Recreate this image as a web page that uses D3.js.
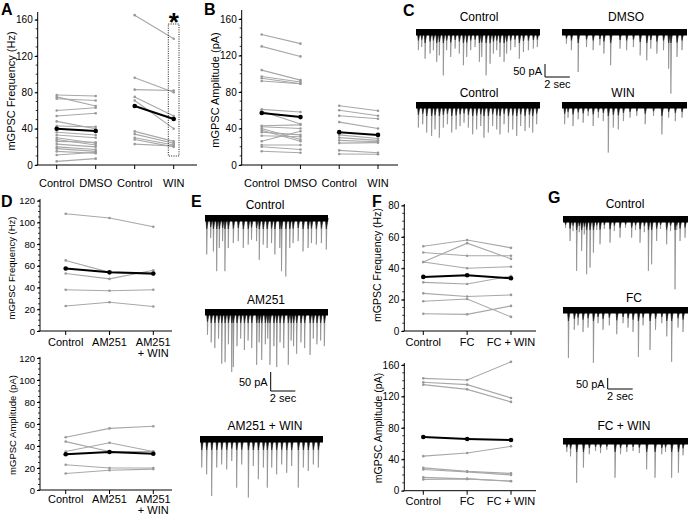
<!DOCTYPE html>
<html><head><meta charset="utf-8">
<script src="https://cdn.jsdelivr.net/npm/d3@7"></script>
<style>body{margin:0;background:#fff} text{font-family:"Liberation Sans",Arial,Helvetica,sans-serif;fill:#000}</style>
</head><body><svg id="fig" width="688" height="515"></svg>
<script>
// ---------- Panel A : mGPSC frequency (Hz) ----------
const aLabels = ["Control","DMSO","Control","WIN"];
const aCtrl1 = [77,75,73,60,54,48,43,36,33,30,26,23,20,18,15,11,4,28];
const aDMSO  = [76,65,71,63,57,40,42,33,30,24,25,20,17,15,13,14,7,22];
const aMean1 = [40,37.5];
const aCtrl2 = [165,96,83,75,71,37,34,30,28,23];
const aWIN   = [139,80,82,54,40,26,24,22,20,21];
const aMean2 = [65,50.6];
const aTicks = [0,40,80,120,160];

// ---------- Panel B : mGPSC amplitude (pA) ----------
const bLabels = ["Control","DMSO","Control","WIN"];
const bCtrl1 = [143,130,104,97,95,92,61,59,43,42,40,38,36,32,26,22,20,15];
const bDMSO  = [133,119,93,91,89,89,58,45,44,40,28,26,33,31,37,22,17,13.5];
const bMean1 = [57,52.5];
const bCtrl2 = [65,60,54,47,33,30,27,24,16,12];
const bWIN   = [59.5,54,50.7,40,29,27,25.5,24.5,13.5,11.7];
const bMean2 = [36,33];
const bTicks = [0,40,80,120,160];

// ---------- Panel D ----------
const dLabels = ["Control","AM251","AM251\n+ WIN"];
const dFreqCtrl = [108,65,53,38,23];
const dFreqAM   = [104,54,48,37,26.5];
const dFreqAMW  = [96,52,56,38,22.5];
const dFreqMean = [57.5,54,53];
const dAmpCtrl = [48,44,35,23,15];
const dAmpAM   = [56,35,43,20,18];
const dAmpAMW  = [58,35,35,20,19];
const dAmpMean = [32.5,34.5,33];
const dTicks = [0,20,40,60,80,100,120];

// ---------- Panel F ----------
const fLabels = ["Control","FC","FC + WIN"];
const fFreqCtrl = [54,50,44,44,31,24,19,11];
const fFreqFC   = [58,48,56,40,30,22,20.4,10.6];
const fFreqFCW  = [53,48,46,41,35,23,9,16];
const fFreqMean = [34.5,35.5,33.6];
const fFreqTicks = [0,20,40,60,80];
const fAmpCtrl = [143,138,135,44,29,27,17,14.4];
const fAmpFC   = [141,135,129,48,24.6,24,15,15];
const fAmpFCW  = [164,118,113,56.5,22,20,12.3,12];
const fAmpMean = [68.3,65.8,64.5];
const fAmpTicks = [0,40,80,120,160];

// ---------- Example traces: event times (s) and amplitudes (pA) ----------
const cCtrl1T = [0.19,0.46,0.73,1.13,1.40,1.67,1.88,2.20,2.47,2.80,3.15,3.49,3.82,4.09,4.41,4.76,5.11,5.30,5.65,5.97,6.24,6.51,6.77,7.10,7.31,7.63,7.98,8.33,8.66,9.06,9.46,9.78];
const cCtrl1A = [70,58,103,83,70,115,90,167,70,96,64,83,128,96,70,58,115,96,167,122,83,70,96,115,83,70,58,103,77,70,64,58];
const cDMSOT = [0.35,0.75,1.29,1.96,2.49,3.03,3.35,3.89,4.64,5.17,5.71,6.25,6.78,7.10,7.59,8.12,8.53,8.71,9.20,9.60];
const cDMSOA = [45,70,154,58,70,51,83,128,64,70,58,90,109,64,83,70,141,237,96,70];
const cCtrl2T = [0.19,0.54,0.86,1.26,1.53,1.88,2.20,2.53,2.88,3.23,3.55,3.87,4.22,4.57,4.89,5.22,5.48,5.83,6.18,6.51,6.77,7.10,7.45,7.80,8.12,8.44,8.79,9.14,9.41,9.73];
const cCtrl2A = [87,74,106,119,94,126,87,74,106,94,81,68,87,113,94,81,126,106,81,94,113,74,106,94,119,81,100,87,106,74];
const cWINT = [0.21,0.48,0.88,1.29,1.69,2.09,2.49,2.90,3.30,3.70,4.10,4.50,4.91,5.44,5.98,6.65,7.32,7.99,8.53,9.06,9.60];
const cWINA = [74,49,81,55,68,42,81,49,62,183,87,94,62,49,42,74,42,113,49,62,49];

const eCtrlT = [0.14,0.46,0.68,0.95,1.16,1.43,1.62,1.89,2.30,2.70,3.11,3.51,3.78,4.19,4.41,4.73,5.05,5.41,5.68,6.08,6.22,6.57,6.89,7.16,7.57,7.97,8.38,8.65,9.05,9.46,9.86];
const eCtrlA = [96,53,88,140,79,61,140,79,66,61,79,70,57,61,110,70,79,66,96,79,140,154,79,66,61,88,79,66,70,66,83];
const eAMT = [0.2,0.5,0.8,1.1,1.36,1.63,1.9,2.17,2.3,2.6,2.9,3.2,3.5,3.8,4.2,4.4,4.61,4.9,5.1,5.28,5.6,5.83,6.1,6.4,6.77,7.0,7.2,7.45,7.8,8.1,8.54,8.8,9.1,9.4,9.7];
const eAMA = [60,80,95,70,136,132,85,158,145,90,70,100,75,95,139,80,126,85,70,139,90,145,80,95,139,75,90,110,80,95,113,70,85,75,90];
const eAMWT = [0.14,0.54,0.95,1.36,1.76,2.17,2.58,2.98,3.39,3.93,4.33,4.74,5.15,5.47,5.83,6.23,6.64,7.05,7.45,7.99,8.40,8.80,9.21,9.62];
const eAMWA = [75,93,150,75,67,80,58,128,67,154,71,106,75,128,75,93,67,89,71,128,75,84,67,75];

const gCtrlT = [0.2,0.56,0.8,1.09,1.3,1.49,1.7,1.89,2.16,2.43,2.7,2.96,3.3,3.76,4.1,4.56,5.0,5.49,5.8,6.16,6.5,6.83,7.09,7.49,7.8,8.29,8.6,8.96,9.1,9.36,9.76];
const gCtrlA = [40,100,55,236,60,145,70,251,221,153,50,115,45,108,55,85,40,85,50,108,60,236,206,100,45,115,55,320,50,100,85];
const gFCT = [0.43,0.9,1.2,1.6,2.0,2.43,2.8,3.2,3.7,4.3,4.8,5.2,5.6,6.03,6.4,6.96,7.4,7.9,8.3,8.69,9.2,9.6];
const gFCA = [218,90,70,100,80,240,60,90,70,110,60,80,100,214,70,182,90,60,120,236,80,100];
const gFCWT = [0.3,0.6,1.09,1.63,2.1,2.6,3.0,3.5,4.16,4.6,5.1,5.6,6.1,6.69,7.36,7.9,8.2,8.69,9.23,9.6];
const gFCWA = [50,70,190,121,60,45,55,40,167,60,50,45,55,129,167,60,50,167,144,65];

// =====================================================================
const svg = d3.select('#fig');
const GRAY = '#a8a8a8';

function label(x, y, s, size, weight, anchor) {
  svg.append('text').attr('x', x).attr('y', y).text(s)
    .attr('font-size', size).attr('font-weight', weight || 'normal')
    .attr('text-anchor', anchor || 'start');
}

function linePanel(o) {
  const g = svg.append('g');
  const y = d3.scaleLinear().domain([0, o.max]).range([o.y0, o.yMax]);
  const x = d3.scalePoint().domain(d3.range(o.labels.length)).range([o.xa, o.xb]);
  const yAx = d3.axisLeft(y).tickValues(o.ticks).tickSize(3).tickPadding(2).tickSizeOuter(0);
  const ya = g.append('g').attr('transform', `translate(${o.ax},0)`).call(yAx);
  ya.select('.domain').remove();
  ya.selectAll('text').attr('font-size', o.tickFont).attr('font-family', '"Liberation Sans",Arial,sans-serif').attr('fill', '#000');
  ya.selectAll('line').attr('stroke', '#000');
  g.selectAll('line.minor').data(d3.range(0, o.max + 0.001, o.minor)).join('line')
    .attr('x1', o.ax - 2).attr('x2', o.ax).attr('y1', d => y(d)).attr('y2', d => y(d))
    .attr('stroke', '#000').attr('stroke-width', 0.8);
  g.append('line').attr('x1', o.ax).attr('x2', o.ax).attr('y1', o.y0).attr('y2', o.axTop).attr('stroke', '#000');
  g.append('line').attr('x1', o.ax).attr('x2', o.axEnd).attr('y1', o.y0).attr('y2', o.y0).attr('stroke', '#000');
  g.selectAll('line.xt').data(x.domain()).join('line')
    .attr('x1', d => x(d)).attr('x2', d => x(d)).attr('y1', o.y0).attr('y2', o.y0 + 4).attr('stroke', '#000');
  const lt = g.selectAll('text.cat').data(x.domain()).join('text')
    .attr('x', d => x(d)).attr('y', o.labelY).attr('text-anchor', 'middle').attr('font-size', 11);
  lt.each(function (d) {
    const parts = o.labels[d].split('\n');
    parts.forEach((p, i) => d3.select(this).append('tspan').attr('x', x(d)).attr('dy', i ? 11 : 0).text(p));
  });
  g.append('text').attr('transform', `translate(${o.titleX},${o.titleY}) rotate(-90)`)
    .attr('text-anchor', 'middle').attr('dominant-baseline', 'central').attr('font-size', o.titleFont).text(o.title);
  o.groups.forEach(gr => {
    const n = gr.series[0].length;
    const subjects = d3.range(n).map(i => gr.series.map((s, j) => [gr.cols[j], s[i]]));
    const line = d3.line().x(d => x(d[0])).y(d => y(d[1]));
    g.selectAll(null).data(subjects).join('path').attr('d', line)
      .attr('fill', 'none').attr('stroke', GRAY).attr('stroke-width', 1.1);
    g.selectAll(null).data(subjects.flat()).join('circle')
      .attr('cx', d => x(d[0])).attr('cy', d => y(d[1])).attr('r', 1.3).attr('fill', '#999');
    const m = gr.mean.map((v, j) => [gr.cols[j], v]);
    g.append('path').datum(m).attr('d', line).attr('fill', 'none').attr('stroke', '#000').attr('stroke-width', 2);
    g.selectAll(null).data(m).join('circle')
      .attr('cx', d => x(d[0])).attr('cy', d => y(d[1])).attr('r', 2.3).attr('fill', '#000');
  });
  return {x, y};
}

function trace(x0, x1, base, pxPerPA, t, a) {
  const g = svg.append('g');
  const x = d3.scaleLinear().domain([0, 10]).range([x0, x1]);
  const y = d3.scaleLinear().domain([0, 100]).range([base, base + 100 * pxPerPA]);
  const ev = d3.zip(t, a);
  // event bodies (grey, fast rise, slower decay)
  g.selectAll(null).data(ev).join('path')
    .attr('d', d => `M${x(d[0]) - 0.3},${base} L${x(d[0])},${y(d[1])} L${x(d[0]) + 0.8},${base}`)
    .attr('fill', '#9a9a9a').attr('stroke', '#808080').attr('stroke-width', 0.6);
  // dark onset portion of each event
  g.selectAll(null).data(ev).join('path')
    .attr('d', d => { const dep = Math.min(d[1] * pxPerPA * 0.3, 8); return `M${x(d[0]) - 1},${base} L${x(d[0])},${base + 3 + dep} L${x(d[0]) + 2},${base}`; })
    .attr('fill', '#111').attr('stroke', '#222').attr('stroke-width', 0.6);
  // baseline noise band
  g.append('rect').attr('x', x(0)).attr('y', base - 3).attr('width', x(10) - x(0)).attr('height', 6.5).attr('fill', '#000');
  return {x, y};
}

function scaleBar(xb, yb, pxPerPA, pxPerSec) {
  const h = 50 * pxPerPA, w = 2 * pxPerSec;
  svg.append('path').attr('d', `M${xb},${yb - h} L${xb},${yb} L${xb + w},${yb}`)
    .attr('fill', 'none').attr('stroke', '#000').attr('stroke-width', 1);
  label(xb - 3, yb - h / 2 + 4, '50 pA', 11, 'normal', 'end');
  label(xb + w / 2, yb + 11, '2 sec', 11, 'normal', 'middle');
}

// ----- Panel A -----
linePanel({max: 160, ticks: aTicks, minor: 10, y0: 165, yMax: 19.7, axTop: 12, ax: 37.7, axEnd: 197,
  xa: 56.7, xb: 173.7, labels: aLabels, labelY: 187, title: 'mGPSC Frequency (Hz)', titleX: 11, titleY: 91,
  tickFont: 10, titleFont: 11,
  groups: [{cols: [0, 1], series: [aCtrl1, aDMSO], mean: aMean1}, {cols: [2, 3], series: [aCtrl2, aWIN], mean: aMean2}]});
svg.append('rect').attr('x', 168.3).attr('y', 24).attr('width', 10.7).attr('height', 132)
  .attr('fill', 'none').attr('stroke', '#000').attr('stroke-width', 0.9).attr('stroke-dasharray', '1,1.3');
label(173.7, 31, '*', 26, 'bold', 'middle');
label(1, 15, 'A', 16, 'bold');

// ----- Panel B -----
linePanel({max: 160, ticks: bTicks, minor: 10, y0: 165, yMax: 19, axTop: 10, ax: 241.7, axEnd: 398,
  xa: 261.7, xb: 378, labels: bLabels, labelY: 187, title: 'mGPSC Amplitude (pA)', titleX: 215, titleY: 90,
  tickFont: 10, titleFont: 11,
  groups: [{cols: [0, 1], series: [bCtrl1, bDMSO], mean: bMean1}, {cols: [2, 3], series: [bCtrl2, bWIN], mean: bMean2}]});
label(204, 15, 'B', 16, 'bold');

// ----- Panel C -----
label(403, 16, 'C', 16, 'bold');
label(479, 21, 'Control', 12, 'normal', 'middle');
label(626, 21, 'DMSO', 12, 'normal', 'middle');
label(479, 97, 'Control', 12, 'normal', 'middle');
label(623, 97, 'WIN', 12, 'normal', 'middle');
trace(416, 540, 32, 0.26, cCtrl1T, cCtrl1A);
trace(562, 687, 32, 0.26, cDMSOT, cDMSOA);
trace(416, 540, 105, 0.26, cCtrl2T, cCtrl2A);
trace(562, 687, 105, 0.26, cWINT, cWINA);
scaleBar(545, 77, 0.26, 12.4);

// ----- Panel D -----
linePanel({max: 120, ticks: dTicks, minor: 5, y0: 331, yMax: 200.7, axTop: 199, ax: 40, axEnd: 172,
  xa: 65.7, xb: 153.3, labels: dLabels, labelY: 346, title: 'mGPSC Frequency (Hz)', titleX: 11, titleY: 268,
  tickFont: 9.5, titleFont: 9.5,
  groups: [{cols: [0, 1, 2], series: [dFreqCtrl, dFreqAM, dFreqAMW], mean: dFreqMean}]});
linePanel({max: 120, ticks: dTicks, minor: 5, y0: 490, yMax: 358, axTop: 357, ax: 40, axEnd: 172,
  xa: 65.7, xb: 153.3, labels: dLabels, labelY: 503, title: 'mGPSC Amplitude (pA)', titleX: 12, titleY: 425,
  tickFont: 9.5, titleFont: 9.5,
  groups: [{cols: [0, 1, 2], series: [dAmpCtrl, dAmpAM, dAmpAMW], mean: dAmpMean}]});
label(1, 207, 'D', 16, 'bold');

// ----- Panel E -----
label(191, 207, 'E', 16, 'bold');
label(265, 209, 'Control', 12, 'normal', 'middle');
label(266, 304, 'AM251', 12, 'normal', 'middle');
label(265, 430, 'AM251 + WIN', 12, 'normal', 'middle');
trace(205, 328, 218, 0.38, eCtrlT, eCtrlA);
trace(205, 328, 312, 0.38, eAMT, eAMA);
trace(200, 323, 439, 0.38, eAMWT, eAMWA);
scaleBar(270.7, 391, 0.38, 12.3);

// ----- Panel F -----
linePanel({max: 80, ticks: fFreqTicks, minor: 5, y0: 331, yMax: 205.5, axTop: 204, ax: 404.3, axEnd: 536,
  xa: 423.3, xb: 511, labels: fLabels, labelY: 346, title: 'mGPSC Frequency (Hz)', titleX: 377, titleY: 265,
  tickFont: 10, titleFont: 10.5,
  groups: [{cols: [0, 1, 2], series: [fFreqCtrl, fFreqFC, fFreqFCW], mean: fFreqMean}]});
linePanel({max: 160, ticks: fAmpTicks, minor: 10, y0: 490.7, yMax: 365, axTop: 363, ax: 404.3, axEnd: 536,
  xa: 423.3, xb: 511, labels: fLabels, labelY: 505, title: 'mGPSC Amplitude (pA)', titleX: 378, titleY: 428,
  tickFont: 10, titleFont: 10.5,
  groups: [{cols: [0, 1, 2], series: [fAmpCtrl, fAmpFC, fAmpFCW], mean: fAmpMean}]});
label(372, 207, 'F', 16, 'bold');

// ----- Panel G -----
label(548, 203, 'G', 16, 'bold');
label(625, 208, 'Control', 12, 'normal', 'middle');
label(634, 302, 'FC', 12, 'normal', 'middle');
label(624, 430, 'FC + WIN', 12, 'normal', 'middle');
trace(563, 688, 219, 0.22, gCtrlT, gCtrlA);
trace(563, 688, 310, 0.22, gFCT, gFCA);
trace(563, 688, 441, 0.22, gFCWT, gFCWA);
scaleBar(607.7, 389, 0.22, 12.5);
</script></body></html>
